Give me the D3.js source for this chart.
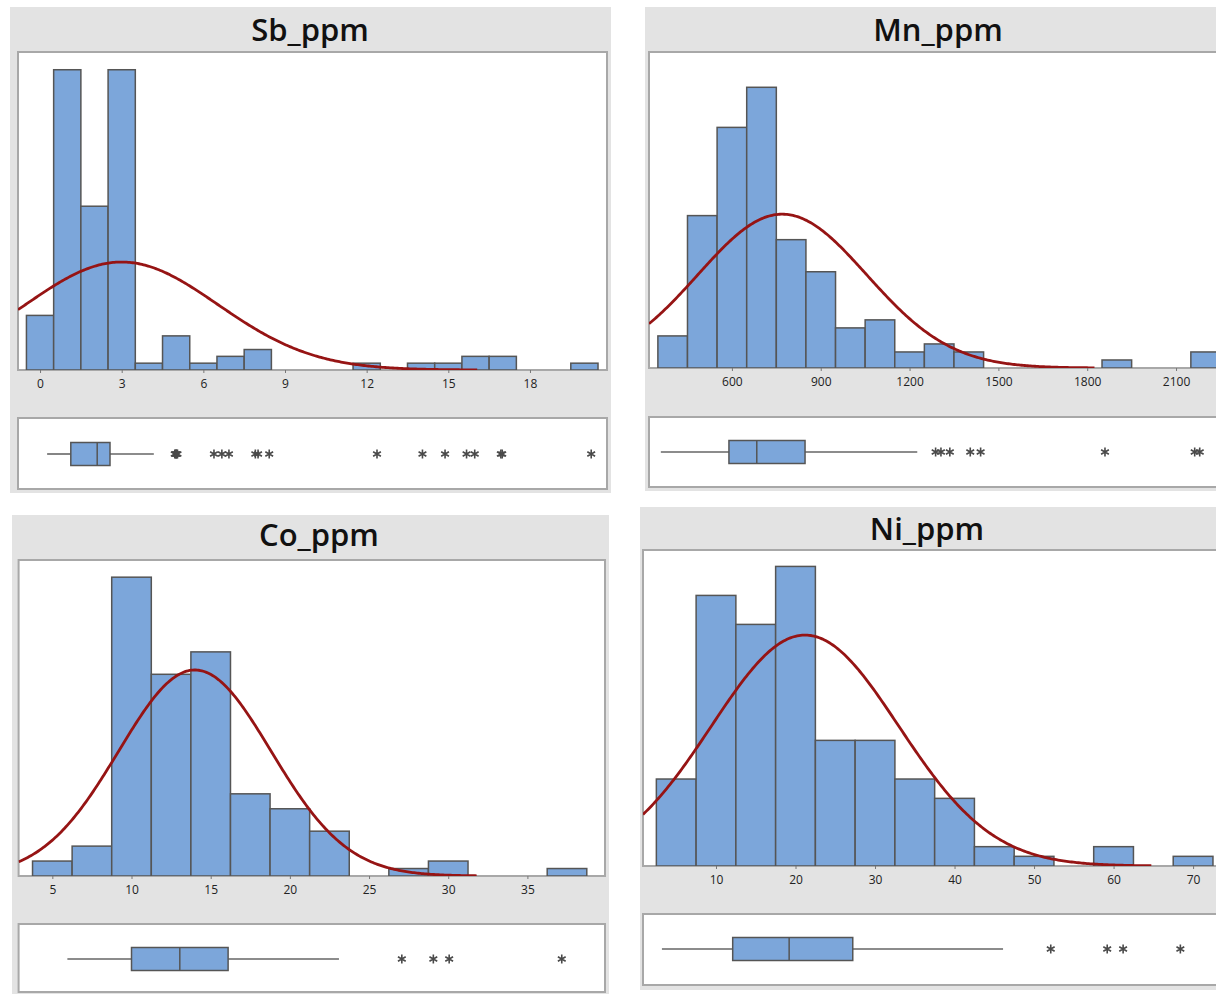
<!DOCTYPE html>
<html><head><meta charset="utf-8">
<script src="https://cdn.jsdelivr.net/npm/d3@7"></script>
<style>body{margin:0;background:#fff;overflow:hidden}svg{display:block}</style>
</head><body>
<svg id="chart" width="1216" height="994"></svg>
<script>
// ---------- DATA ----------
const panelNames = ["Sb_ppm", "Mn_ppm", "Co_ppm", "Ni_ppm"];

// Sb_ppm
const sbBinCenters = [0,1,2,3,4,5,6,7,8,9,10,11,12,13,14,15,16,17,18,19,20];
const sbCounts     = [8,44,24,44,1,5,1,2,3,0,0,0,1,0,1,1,2,2,0,0,1];
const sbTicks      = [0,3,6,9,12,15,18];
const sbBox        = [0.26, 1.13, 2.1, 2.57, 4.18];   // whisker lo, Q1, median, Q3, whisker hi
const sbOutliers   = [4.95,4.98,5.0,5.02,5.05,6.39,6.68,6.94,7.91,8.01,8.42,12.38,14.05,14.88,15.67,15.97,16.93,16.98,20.25];
const sbFit        = [3.0, 3.53, 140];                   // mean, sd, n

// Mn_ppm
const mnBinCenters = [400,500,600,700,800,900,1000,1100,1200,1300,1400,1500,1600,1700,1800,1900,2000,2100,2200];
const mnCounts     = [4,19,30,35,16,12,5,6,2,3,2,0,0,0,0,1,0,0,2];
const mnTicks      = [600,900,1200,1500,1800,2100];
const mnBox        = [360, 590, 684, 847, 1226];
const mnOutliers   = [1288,1306,1336,1405,1440,1860,2163,2180];
const mnFit        = [770, 285, 137];

// Co_ppm
const coBinCenters = [5,7.5,10,12.5,15,17.5,20,22.5,25,27.5,30,32.5,35,37.5];
const coCounts     = [2,4,40,27,30,11,9,6,0,1,2,0,0,1];
const coTicks      = [5,10,15,20,25,30,35];
const coBox        = [5.95, 10.0, 13.05, 16.1, 23.1];
const coOutliers   = [27.07, 29.06, 30.06, 37.17];
const coFit        = [14.0, 4.81, 133];

// Ni_ppm
const niBinCenters = [5,10,15,20,25,30,35,40,45,50,55,60,65,70];
const niCounts     = [9,28,25,31,13,13,9,7,2,1,0,2,0,1];
const niTicks      = [10,20,30,40,50,60,70];
const niBox        = [3.2, 12.1, 19.2, 27.2, 46.1];
const niOutliers   = [52.1, 59.2, 61.2, 68.4];
const niFit        = [21.2, 11.77, 141];

// ---------- LAYOUT ----------
const panels = [
  {name: panelNames[0], centers: sbBinCenters, counts: sbCounts, binW: 1,   ticks: sbTicks, box: sbBox, outliers: sbOutliers, fit: sbFit,
   xDomain: [-0.81, 20.83], yMax: 46.6,
   bg: [10, 7, 611, 493], titleX: 310, titleY: 41,
   plot: [18, 52, 607, 370], labelY: 388, bp: [18, 418, 607, 489], boxY: 454},
  {name: panelNames[1], centers: mnBinCenters, counts: mnCounts, binW: 100, ticks: mnTicks, box: mnBox, outliers: mnOutliers, fit: mnFit,
   xDomain: [320, 2316], yMax: 39.4,
   bg: [645, 7, 1250, 491], titleX: 938, titleY: 41,
   plot: [649, 52, 1240, 368], labelY: 386, bp: [649, 417, 1240, 487], boxY: 452},
  {name: panelNames[2], centers: coBinCenters, counts: coCounts, binW: 2.5, ticks: coTicks, box: coBox, outliers: coOutliers, fit: coFit,
   xDomain: [2.87, 39.9], yMax: 42.3,
   bg: [12, 515, 609, 1000], titleX: 319, titleY: 546,
   plot: [18.6, 560, 605, 876], labelY: 894, bp: [18.6, 924, 605, 992], boxY: 959},
  {name: panelNames[3], centers: niBinCenters, counts: niCounts, binW: 5, ticks: niTicks, box: niBox, outliers: niOutliers, fit: niFit,
   xDomain: [0.82, 75.9], yMax: 32.7,
   bg: [640, 507, 1250, 990], titleX: 927, titleY: 540,
   plot: [643, 550, 1240, 866], labelY: 884, bp: [643, 914, 1240, 985], boxY: 949}
];

const BAR_FILL = "#7ca6da", BAR_STROKE = "#555555", FIT = "#961414";
const svg = d3.select("#chart");
const defs = svg.append("defs");

function asterisk(r) {
  const a = r * Math.cos(Math.PI / 6), b = r * Math.sin(Math.PI / 6);
  return `M0,${-r}L0,${r}M${-a},${-b}L${a},${b}M${-a},${b}L${a},${-b}`;
}

panels.forEach((p, i) => {
  const g = svg.append("g");
  const [bx0, by0, bx1, by1] = p.bg;
  g.append("rect").attr("x", bx0).attr("y", by0).attr("width", bx1 - bx0).attr("height", by1 - by0).attr("fill", "#e3e3e3");

  g.append("text").attr("x", p.titleX).attr("y", p.titleY).attr("text-anchor", "middle")
    .attr("font-family", "'Open Sans', 'Noto Sans', sans-serif").attr("font-weight", 600).attr("font-size", 31)
    .attr("fill", "#111").text(p.name);

  const [px0, py0, px1, py1] = p.plot;
  const x = d3.scaleLinear().domain(p.xDomain).range([px0, px1]);
  const y = d3.scaleLinear().domain([0, p.yMax]).range([py1, py0]);

  g.append("rect").attr("x", px0).attr("y", py0).attr("width", px1 - px0).attr("height", py1 - py0)
    .attr("fill", "#fff").attr("stroke", "#a8a8a8").attr("stroke-width", 2);

  const clipId = "clip" + i;
  defs.append("clipPath").attr("id", clipId).append("rect")
    .attr("x", px0).attr("y", py0 - 2).attr("width", px1 - px0).attr("height", py1 - py0 + 2);

  // bars
  const bins = p.centers.map((c, k) => ({c, n: p.counts[k]})).filter(d => d.n > 0);
  g.append("g").attr("clip-path", `url(#${clipId})`).selectAll("rect").data(bins).join("rect")
    .attr("x", d => x(d.c - p.binW / 2)).attr("width", d => x(d.c + p.binW / 2) - x(d.c - p.binW / 2))
    .attr("y", d => y(d.n)).attr("height", d => y(0) - y(d.n))
    .attr("fill", BAR_FILL).attr("stroke", BAR_STROKE).attr("stroke-width", 1.5);

  // fitted normal curve
  const [mu, sd, n] = p.fit;
  const lo = Math.max(p.xDomain[0], mu - 3.7 * sd), hi = Math.min(p.xDomain[1], mu + 3.7 * sd);
  const pts = d3.range(0, 301).map(k => {
    const v = lo + (hi - lo) * k / 300;
    const dens = n * p.binW * Math.exp(-0.5 * ((v - mu) / sd) ** 2) / (sd * Math.sqrt(2 * Math.PI));
    return [v, dens];
  });
  g.append("path").attr("clip-path", `url(#${clipId})`).datum(pts)
    .attr("d", d3.line().x(d => x(d[0])).y(d => y(d[1])))
    .attr("fill", "none").attr("stroke", FIT).attr("stroke-width", 2.8);

  // x axis ticks & labels
  const ax = g.append("g").attr("transform", `translate(0,${py1})`)
    .call(d3.axisBottom(x).tickValues(p.ticks).tickFormat(d3.format("d")).tickSize(3).tickPadding(4));
  ax.select(".domain").remove();
  ax.selectAll(".tick line").attr("stroke", "#777");
  ax.selectAll(".tick text").attr("font-family", "'Open Sans', sans-serif").attr("font-size", 12)
    .attr("fill", "#222").attr("dy", null).attr("y", p.labelY - py1);

  // boxplot panel
  const [qx0, qy0, qx1, qy1] = p.bp;
  g.append("rect").attr("x", qx0).attr("y", qy0).attr("width", qx1 - qx0).attr("height", qy1 - qy0)
    .attr("fill", "#fff").attr("stroke", "#a8a8a8").attr("stroke-width", 2);
  const [w0, q1, med, q3, w1] = p.box;
  const cy = p.boxY, hh = 11.5;
  const bg = g.append("g");
  bg.append("line").attr("x1", x(w0)).attr("x2", x(q1)).attr("y1", cy).attr("y2", cy).attr("stroke", "#666").attr("stroke-width", 1.6);
  bg.append("line").attr("x1", x(q3)).attr("x2", x(w1)).attr("y1", cy).attr("y2", cy).attr("stroke", "#666").attr("stroke-width", 1.6);
  bg.append("rect").attr("x", x(q1)).attr("y", cy - hh).attr("width", x(q3) - x(q1)).attr("height", 2 * hh)
    .attr("fill", BAR_FILL).attr("stroke", BAR_STROKE).attr("stroke-width", 1.5);
  bg.append("line").attr("x1", x(med)).attr("x2", x(med)).attr("y1", cy - hh).attr("y2", cy + hh).attr("stroke", BAR_STROKE).attr("stroke-width", 1.5);
  bg.selectAll("path.out").data(p.outliers).join("path").attr("class", "out")
    .attr("transform", d => `translate(${x(d)},${cy})`).attr("d", asterisk(4.5))
    .attr("fill", "none").attr("stroke", "#4a4a4a").attr("stroke-width", 1.6);
});
</script>
</body></html>
